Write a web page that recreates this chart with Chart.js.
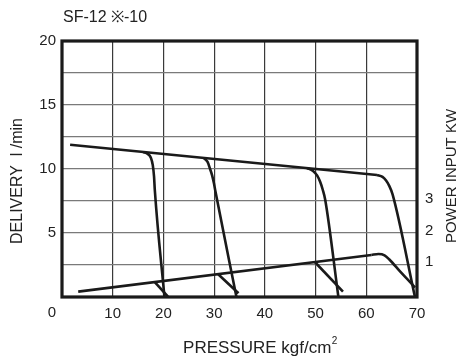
<!DOCTYPE html>
<html>
<head>
<meta charset="utf-8">
<script src="https://cdn.jsdelivr.net/npm/chart.js@4/dist/chart.umd.min.js"></script>
<style>
html,body{margin:0;padding:0;background:#fff;}
#c{display:block;}
</style>
</head>
<body>
<canvas id="c" width="458" height="360"></canvas>
<script>
// ---- texts ----
const chartTitle = 'SF-12 ※-10';
const xTitle = 'PRESSURE kgf/cm';
const xTitleSup = '2';
const yTitle = 'DELIVERY  l /min';
const y2Title = 'POWER INPUT KW';

// ---- tick labels ----
const pressureTicks = [0, 10, 20, 30, 40, 50, 60, 70];
const deliveryTicks = [5, 10, 15, 20];
const powerTicks = [1, 2, 3];

// ---- delivery (l/min) vs pressure (kgf/cm2) ----
const mainFlow = [[1.6, 11.9], [62.1, 9.53]];
const knee1 = [[16.0, 11.32], [16.9, 11.18], [17.5, 10.9], [17.9, 10.3], [18.15, 9.4], [18.3, 8.36], [20.2, 0]];
const knee2 = [[27.9, 10.87], [28.7, 10.55], [29.2, 10.0], [29.6, 9.5], [29.95, 8.9], [30.2, 8.36], [34.4, 0]];
const knee3 = [[48.3, 10.07], [49.5, 9.85], [50.3, 9.5], [50.9, 9.0], [51.4, 8.4], [51.9, 7.6], [54.5, 0]];
const knee4 = [[62.1, 9.53], [63.2, 9.38], [63.9, 9.1], [64.5, 8.7], [65.2, 8.0], [69.6, 0]];

// ---- power input (kW) vs pressure ----
const powerMain = [[3.2, 0.07], [61.0, 1.23]];
const powerPeak = [[61.0, 1.23], [62.4, 1.26], [63.6, 1.22], [64.6, 1.08], [66.7, 0.7], [68.6, 0.38], [69.6, 0.2]];
const powerBranch1 = [[18.3, 0.37], [20.9, -0.09]];
const powerBranch2 = [[30.8, 0.62], [34.8, 0.02]];
const powerBranch3 = [[49.9, 1.0], [55.4, 0.07]];

const FONT = "'Liberation Sans', Arial, Helvetica, sans-serif";
const INK = '#1a1a1a';

function pts(a) { return a.map(p => ({x: p[0], y: p[1]})); }
function ds(a, axis, curved) {
  return {
    data: pts(a), yAxisID: axis, borderColor: INK, borderWidth: 2.6,
    pointRadius: 0, fill: false, tension: 0,
    cubicInterpolationMode: curved ? 'monotone' : 'default'
  };
}

const decorPlugin = {
  id: 'decor',
  afterDraw(chart) {
    const ctx = chart.ctx, a = chart.chartArea;
    const xs = chart.scales.x;
    ctx.save();
    // frame
    ctx.strokeStyle = INK;
    ctx.lineWidth = 3.2;
    ctx.strokeRect(a.left, a.top, a.right - a.left, a.bottom - a.top);
    ctx.fillStyle = '#222';
    // title
    ctx.font = '16px ' + FONT;
    ctx.textAlign = 'left';
    ctx.textBaseline = 'alphabetic';
    ctx.fillText(chartTitle, 63, 22);
    // x "0" label (offset to the left as in the original)
    ctx.font = '15px ' + FONT;
    ctx.textAlign = 'center';
    ctx.textBaseline = 'middle';
    ctx.fillText(String(pressureTicks[0]), xs.getPixelForValue(pressureTicks[0]) - 10, 313);
    // x title with superscript
    ctx.font = '17px ' + FONT;
    const w1 = ctx.measureText(xTitle).width;
    ctx.font = '10px ' + FONT;
    const w2 = ctx.measureText(xTitleSup).width;
    const x0 = 260 - (w1 + w2) / 2;
    ctx.textAlign = 'left';
    ctx.textBaseline = 'alphabetic';
    ctx.font = '17px ' + FONT;
    ctx.fillText(xTitle, x0, 353);
    ctx.font = '10px ' + FONT;
    ctx.fillText(xTitleSup, x0 + w1 + 0.5, 344);
    // left title
    ctx.save();
    ctx.translate(18, 181);
    ctx.rotate(-Math.PI / 2);
    ctx.font = '16px ' + FONT;
    ctx.textAlign = 'center';
    ctx.textBaseline = 'middle';
    ctx.fillText(yTitle, 0, 0);
    ctx.restore();
    // right title
    ctx.save();
    ctx.translate(452, 176);
    ctx.rotate(-Math.PI / 2);
    ctx.font = '15px ' + FONT;
    ctx.textAlign = 'center';
    ctx.textBaseline = 'middle';
    ctx.fillText(y2Title, 0, 0);
    ctx.restore();
    ctx.restore();
  }
};

new Chart(document.getElementById('c'), {
  type: 'line',
  data: {
    datasets: [
      ds(mainFlow, 'y', false),
      ds(knee1, 'y', true),
      ds(knee2, 'y', true),
      ds(knee3, 'y', true),
      ds(knee4, 'y', true),
      ds(powerMain, 'y2', false),
      ds(powerPeak, 'y2', true),
      ds(powerBranch1, 'y2', false),
      ds(powerBranch2, 'y2', false),
      ds(powerBranch3, 'y2', false)
    ]
  },
  options: {
    responsive: false,
    animation: false,
    parsing: true,
    layout: {padding: {top: 41, left: 0, right: 0, bottom: 0}},
    plugins: {legend: {display: false}, tooltip: {enabled: false}, title: {display: false}},
    scales: {
      x: {
        type: 'linear', min: 0, max: 70,
        afterFit(s) { s.height = 63; },
        border: {display: false},
        grid: {color: '#3a3a3a', lineWidth: 1.2, drawTicks: false},
        ticks: {
          stepSize: 10, padding: 8, maxRotation: 0, autoSkip: false,
          color: '#222', font: {family: FONT, size: 15},
          callback: v => (pressureTicks.includes(v) && v !== pressureTicks[0]) ? String(v) : ''
        }
      },
      y: {
        type: 'linear', position: 'left', min: 0, max: 20,
        afterFit(s) { s.width = 62; },
        border: {display: false},
        grid: {color: '#7a7a7a', lineWidth: 1.3, drawTicks: false},
        ticks: {
          stepSize: 2.5, padding: 6, autoSkip: false,
          color: '#222', font: {family: FONT, size: 15},
          callback: v => deliveryTicks.includes(v) ? String(v) : ''
        }
      },
      y2: {
        type: 'linear', position: 'right', min: -0.1, max: 8,
        afterFit(s) { s.width = 41; },
        border: {display: false},
        grid: {display: false, drawTicks: false},
        ticks: {
          stepSize: 1, padding: 8, autoSkip: false,
          color: '#222', font: {family: FONT, size: 15},
          callback: v => powerTicks.includes(v) ? String(v) : ''
        }
      }
    }
  },
  plugins: [decorPlugin]
});
</script>
</body>
</html>
